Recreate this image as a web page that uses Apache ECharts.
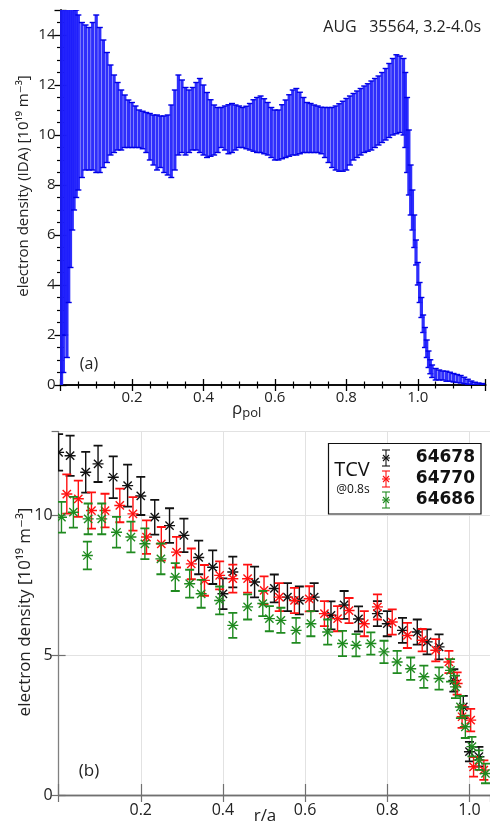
<!DOCTYPE html>
<html>
<head>
<meta charset="utf-8">
<style>
html,body{margin:0;padding:0;background:#fff;}
#c{width:490px;height:828px;}
</style>
<script src="https://cdn.jsdelivr.net/npm/echarts@6/dist/echarts.min.js"></script>
</head>
<body>
<div id="c"></div>
<script>
// ---------- Panel (a): AUG 35564 IDA profile ----------
const rhoAUG = [0.003,0.008,0.013,0.018,0.023,0.028,0.033,0.038,0.044,0.05,0.06,0.07,0.08,0.09,0.10,0.11,0.12,0.13,0.14,0.15,0.16,0.17,0.18,0.19,0.20,0.21,0.22,0.23,0.24,0.25,0.26,0.27,0.28,0.29,0.30,0.31,0.32,0.33,0.34,0.35,0.36,0.37,0.38,0.39,0.40,0.41,0.42,0.43,0.44,0.45,0.46,0.47,0.48,0.49,0.50,0.51,0.52,0.53,0.54,0.55,0.56,0.57,0.58,0.59,0.60,0.61,0.62,0.63,0.64,0.65,0.66,0.67,0.68,0.69,0.70,0.71,0.72,0.73,0.74,0.75,0.76,0.77,0.78,0.79,0.80,0.81,0.82,0.83,0.84,0.85,0.86,0.87,0.88,0.89,0.90,0.91,0.92,0.93,0.94,0.95,0.96,0.965,0.97,0.975,0.98,0.985,0.99,0.995,1.00,1.005,1.01,1.015,1.02,1.025,1.03,1.035,1.04,1.05,1.06,1.07,1.08,1.09,1.10,1.11,1.12,1.13,1.14,1.15,1.16,1.17,1.18];
const neAUG = [12,11.25,10.5,9.55,10.15,10.35,10.85,11.1,11.25,11.3,11.4,11.5,11.45,11.55,11.65,11.4,11.25,11.1,11.0,10.85,10.75,10.6,10.55,10.45,10.4,10.33,10.25,10.2,10.1,9.93,9.8,9.7,9.73,9.63,9.6,9.75,10.2,10.8,10.75,10.55,10.55,10.65,10.75,10.78,10.6,10.4,10.28,10.2,10.2,10.3,10.28,10.23,10.28,10.3,10.33,10.3,10.3,10.33,10.38,10.4,10.43,10.35,10.25,10.1,10.0,10.0,10.13,10.25,10.38,10.5,10.53,10.48,10.4,10.3,10.28,10.25,10.23,10.18,10.1,10.0,9.9,9.88,9.9,9.95,10.03,10.18,10.33,10.43,10.53,10.63,10.7,10.78,10.88,10.98,11.1,11.23,11.38,11.53,11.63,11.63,11.53,11.0,10.0,8.9,7.8,7.0,6.15,5.3,4.45,3.7,3.1,2.45,1.9,1.45,1.03,0.73,0.55,0.43,0.4,0.38,0.35,0.33,0.29,0.26,0.23,0.18,0.13,0.09,0.06,0.04,0.03];
const errAUG = [13,10.75,8.5,8.45,6.85,5.65,4.65,4.1,3.75,3.5,3.1,2.9,2.85,2.95,3.15,2.9,2.55,2.2,1.8,1.55,1.35,1.2,1.05,0.95,0.9,0.83,0.75,0.75,0.8,0.93,1.0,1.1,1.03,1.13,1.2,1.45,1.6,1.6,1.45,1.35,1.25,1.25,1.35,1.48,1.4,1.3,1.13,1.0,0.9,0.8,0.88,0.98,0.98,0.9,0.83,0.8,0.85,0.93,1.03,1.1,1.13,1.1,1.05,1.0,1.0,1.0,1.08,1.15,1.23,1.3,1.33,1.23,1.1,1.0,0.98,0.95,0.93,0.93,1.0,1.1,1.2,1.28,1.35,1.4,1.43,1.38,1.33,1.33,1.33,1.33,1.35,1.38,1.38,1.38,1.4,1.43,1.48,1.53,1.58,1.53,1.53,1.5,1.5,1.3,1.0,0.8,0.65,0.5,0.45,0.4,0.4,0.35,0.4,0.35,0.33,0.28,0.25,0.23,0.2,0.18,0.2,0.18,0.17,0.16,0.15,0.13,0.1,0.07,0.05,0.04,0.03];

// ---------- Panel (b): TCV @0.8s ----------
const ra64678 = [0.000,0.028,0.066,0.096,0.133,0.168,0.200,0.234,0.270,0.305,0.341,0.375,0.400,0.424,0.477,0.525,0.557,0.586,0.622,0.663,0.695,0.730,0.776,0.800,0.837,0.873,0.897,0.926,0.962,0.985,1.000,1.023];
const ne64678 = [12.26,12.14,11.55,11.85,11.37,11.07,10.70,9.94,9.64,9.29,8.50,8.15,7.20,7.98,7.62,7.39,7.08,6.96,7.08,6.43,6.80,6.30,6.49,6.13,5.89,5.83,5.48,5.30,4.10,3.15,1.55,1.37];
const er64678 = [0.65,0.72,0.73,0.65,0.75,0.75,0.68,0.62,0.62,0.6,0.6,0.6,0.55,0.55,0.55,0.5,0.5,0.5,0.5,0.5,0.5,0.45,0.45,0.45,0.45,0.45,0.45,0.45,0.4,0.4,0.35,0.35];

const ra64770 = [0.020,0.048,0.080,0.113,0.149,0.181,0.214,0.250,0.287,0.323,0.355,0.392,0.424,0.460,0.500,0.537,0.574,0.610,0.647,0.679,0.707,0.744,0.776,0.812,0.849,0.885,0.918,0.950,0.970,0.982,1.003,1.010,1.035];
const ne64770 = [10.77,10.60,10.18,10.18,10.36,10.06,9.23,8.99,8.69,8.27,7.68,7.86,7.74,7.74,7.32,7.08,6.96,7.02,6.49,6.31,6.60,6.13,6.73,6.19,5.71,5.54,5.18,4.76,3.99,2.80,2.68,1.01,0.89];
const er64770 = [0.7,0.65,0.65,0.6,0.6,0.6,0.6,0.6,0.55,0.55,0.55,0.5,0.5,0.5,0.5,0.5,0.45,0.45,0.45,0.45,0.45,0.45,0.45,0.45,0.45,0.4,0.4,0.4,0.4,0.4,0.4,0.35,0.35];

const ra64686 = [0.007,0.036,0.070,0.072,0.105,0.141,0.176,0.210,0.249,0.284,0.319,0.347,0.392,0.424,0.460,0.497,0.513,0.541,0.578,0.614,0.655,0.691,0.724,0.760,0.792,0.824,0.857,0.889,0.926,0.954,0.966,0.978,0.990,1.006,1.023,1.039];
const ne64686 = [9.94,10.12,8.57,9.88,9.88,9.40,9.23,8.99,8.45,7.80,7.56,7.20,6.96,6.07,6.73,6.85,6.31,6.25,5.89,6.13,5.83,5.42,5.36,5.42,5.12,4.76,4.52,4.23,4.17,4.46,3.87,3.15,2.44,1.73,1.25,0.77];
const er64686 = [0.55,0.55,0.5,0.55,0.55,0.55,0.55,0.55,0.55,0.5,0.5,0.5,0.5,0.45,0.45,0.45,0.45,0.45,0.45,0.45,0.45,0.45,0.4,0.4,0.4,0.4,0.4,0.4,0.4,0.4,0.4,0.4,0.4,0.35,0.35,0.35];

const shotNames = ['64678','64770','64686'];
const shotColors = ['#111111','#ff1010','#1f8a1f'];

const FONT = '"Open Sans", "DejaVu Sans", sans-serif';

const zip3 = (a,b,c) => a.map((v,i)=>[v,b[i],c[i]]);

function augItem(params, api){
  const x = api.value(0), y = api.value(1), e = api.value(2);
  const yMin = 0, yMax = 15;
  const lo = Math.max(y - e, yMin), hi = Math.min(y + e, yMax);
  const pLo = api.coord([x, lo]), pHi = api.coord([x, hi]);
  const ch = [{
    type:'line', shape:{x1:pLo[0], y1:pLo[1], x2:pHi[0], y2:pHi[1]},
    style:{stroke:'rgba(28,28,252,0.92)', lineWidth:3.2}
  }];
  const cw = 3;
  if (y - e >= yMin) ch.push({type:'line', shape:{x1:pLo[0]-cw,y1:pLo[1],x2:pLo[0]+cw,y2:pLo[1]}, style:{stroke:'#0000e6', lineWidth:1.4}});
  if (y + e <= yMax) ch.push({type:'line', shape:{x1:pHi[0]-cw,y1:pHi[1],x2:pHi[0]+cw,y2:pHi[1]}, style:{stroke:'#0000e6', lineWidth:1.4}});
  return {type:'group', children:ch};
}

function tcvItemFactory(color){
  return function(params, api){
    const x = api.value(0), y = api.value(1), e = api.value(2);
    const p = api.coord([x, y]);
    const pLo = api.coord([x, Math.max(y - e, 0)]);
    const pHi = api.coord([x, y + e]);
    const cw = 4.5, r = 5.5;
    const st = {stroke:color, lineWidth:1.4};
    const ch = [
      {type:'line', shape:{x1:p[0],y1:pLo[1],x2:p[0],y2:pHi[1]}, style:st},
      {type:'line', shape:{x1:p[0]-cw,y1:pLo[1],x2:p[0]+cw,y2:pLo[1]}, style:{stroke:color,lineWidth:1.8}},
      {type:'line', shape:{x1:p[0]-cw,y1:pHi[1],x2:p[0]+cw,y2:pHi[1]}, style:{stroke:color,lineWidth:1.8}},
      {type:'line', shape:{x1:p[0]-r,y1:p[1],x2:p[0]+r,y2:p[1]}, style:st},
      {type:'line', shape:{x1:p[0]-r*0.75,y1:p[1]-r*0.75,x2:p[0]+r*0.75,y2:p[1]+r*0.75}, style:st},
      {type:'line', shape:{x1:p[0]-r*0.75,y1:p[1]+r*0.75,x2:p[0]+r*0.75,y2:p[1]-r*0.75}, style:st}
    ];
    return {type:'group', children:ch};
  };
}

const chart = echarts.init(document.getElementById('c'), null, {renderer:'canvas'});

const blackAxis = {lineStyle:{color:'#000', width:1.5}};
const grayAxis = {lineStyle:{color:'#808080', width:1.3}};

const option = {
  animation:false,
  backgroundColor:'#fff',
  grid:[
    {left:60.5, top:10, width:425.2, height:375},
    {left:58.6, top:431.7, width:431.4, height:363.3}
  ],
  xAxis:[
    {type:'value', gridIndex:0, min:0, max:1.19, interval:0.2, position:'bottom',
     axisLine:blackAxis,
     axisTick:{inside:true, length:6, lineStyle:{color:'#000', width:1.3}},
     minorTick:{show:true, splitNumber:4, length:3.5, lineStyle:{color:'#000', width:1.2}},
     splitLine:{show:false},
     axisLabel:{showMaxLabel:false, margin:5, fontSize:15, color:'#222', fontFamily:FONT,
       formatter:v => (Math.abs(v) < 1e-9 ? '' : v.toFixed(1))}},
    {type:'value', gridIndex:0, min:0, max:1.19, interval:0.2, position:'top',
     axisLine:blackAxis,
     axisTick:{inside:true, length:6, lineStyle:{color:'#000', width:1.3}},
     minorTick:{show:true, splitNumber:4, length:3.5, lineStyle:{color:'#000', width:1.2}},
     splitLine:{show:false}, axisLabel:{show:false}},
    {type:'value', gridIndex:1, min:0, max:1.05, interval:0.2, position:'bottom',
     axisLine:grayAxis,
     axisTick:{inside:true, length:11, lineStyle:{color:'#707070', width:1.2}},
     splitLine:{show:true, lineStyle:{color:'#e2e2e2', width:1}},
     axisLabel:{showMaxLabel:false, margin:7, fontSize:16, color:'#222', fontFamily:FONT,
       formatter:v => (Math.abs(v) < 1e-9 ? '' : v.toFixed(1))}},
    {type:'value', gridIndex:1, min:0, max:1.05, interval:0.2, position:'top',
     axisLine:{lineStyle:{color:'#707070', width:1.3}},
     axisTick:{inside:true, length:7, lineStyle:{color:'#707070', width:1.2}},
     splitLine:{show:false}, axisLabel:{show:false}}
  ],
  yAxis:[
    {type:'value', gridIndex:0, min:0, max:15, interval:2, position:'left',
     axisLine:blackAxis,
     axisTick:{inside:true, length:6, lineStyle:{color:'#000', width:1.3}},
     minorTick:{show:true, splitNumber:4, length:3.5, lineStyle:{color:'#000', width:1.2}},
     splitLine:{show:false},
     axisLabel:{showMaxLabel:false, margin:5, fontSize:15, color:'#222', fontFamily:FONT}},
    {type:'value', gridIndex:0, min:0, max:15, interval:2, position:'right',
     axisLine:blackAxis,
     axisTick:{inside:true, length:6, lineStyle:{color:'#000', width:1.3}},
     minorTick:{show:true, splitNumber:4, length:3.5, lineStyle:{color:'#000', width:1.2}},
     splitLine:{show:false}, axisLabel:{show:false}},
    {type:'value', gridIndex:1, min:0, max:13, interval:5, position:'left',
     axisLine:grayAxis,
     axisTick:{inside:true, length:7, lineStyle:{color:'#707070', width:1.2}},
     splitLine:{show:true, lineStyle:{color:'#e2e2e2', width:1}},
     axisLabel:{showMaxLabel:false, margin:6, fontSize:16, color:'#222', fontFamily:FONT}},
    {type:'value', gridIndex:1, min:0, max:13, interval:5, position:'right',
     axisLine:{show:false},
     axisTick:{inside:true, length:7, lineStyle:{color:'#707070', width:1.2}},
     splitLine:{show:false}, axisLabel:{show:false}}
  ],
  series:[
    {type:'custom', name:'AUG 35564', xAxisIndex:0, yAxisIndex:0, clip:true,
     data:zip3(rhoAUG, neAUG, errAUG), renderItem:augItem, z:3},
    {type:'custom', name:shotNames[0], xAxisIndex:2, yAxisIndex:2, clip:true,
     data:zip3(ra64678, ne64678, er64678), renderItem:tcvItemFactory(shotColors[0]), z:3},
    {type:'custom', name:shotNames[1], xAxisIndex:2, yAxisIndex:2, clip:true,
     data:zip3(ra64770, ne64770, er64770), renderItem:tcvItemFactory(shotColors[1]), z:4},
    {type:'custom', name:shotNames[2], xAxisIndex:2, yAxisIndex:2, clip:true,
     data:zip3(ra64686, ne64686, er64686), renderItem:tcvItemFactory(shotColors[2]), z:5}
  ],
  graphic:[]
};

const g = [];
// axis titles
g.push({type:'text', x:24, y:186, rotation:Math.PI/2,
  style:{text:'electron density (IDA) [10¹⁹ m⁻³]', font:'15px '+FONT, fill:'#222', align:'center', verticalAlign:'middle'}});
g.push({type:'text', x:25, y:612, rotation:Math.PI/2,
  style:{text:'electron density [10¹⁹ m⁻³]', font:'17px '+FONT, fill:'#222', align:'center', verticalAlign:'middle'}});
g.push({type:'text', x:232, y:398,
  style:{text:'{a|ρ}{b|pol}', rich:{a:{fontSize:17, fontFamily:FONT, fill:'#222'}, b:{fontSize:13, fontFamily:FONT, fill:'#222', padding:[9,0,0,0]}}, fill:'#222'}});
g.push({type:'text', x:265, y:816,
  style:{text:'r/a', font:'17px '+FONT, fill:'#222', align:'center', verticalAlign:'middle'}});
// panel labels
g.push({type:'text', x:89, y:364, style:{text:'(a)', font:'16px '+FONT, fill:'#222', align:'center', verticalAlign:'middle'}});
g.push({type:'text', x:89, y:771, style:{text:'(b)', font:'17px '+FONT, fill:'#222', align:'center', verticalAlign:'middle'}});
g.push({type:'text', x:481, y:27, style:{text:'AUG   35564, 3.2-4.0s', font:'16px '+FONT, fill:'#222', align:'right', verticalAlign:'middle'}});
// legend box
g.push({type:'rect', shape:{x:328.5, y:443.5, width:152.5, height:70.5}, style:{fill:'#fff', stroke:'#111', lineWidth:1.2}, z:10});
g.push({type:'text', x:352, y:470, z:11, style:{text:'TCV', font:'20px '+FONT, fill:'#111', align:'center', verticalAlign:'middle'}});
g.push({type:'text', x:353, y:490, z:11, style:{text:'@0.8s', font:'12px '+FONT, fill:'#111', align:'center', verticalAlign:'middle'}});
const rowsY = [458, 479, 500];
shotNames.forEach((nm, i) => {
  const cx = 386, cy = rowsY[i], col = shotColors[i];
  const st = {stroke:col, lineWidth:1.1};
  g.push({type:'line', z:11, shape:{x1:cx, y1:cy-8, x2:cx, y2:cy+8}, style:st});
  g.push({type:'line', z:11, shape:{x1:cx-4, y1:cy-8, x2:cx+4, y2:cy-8}, style:st});
  g.push({type:'line', z:11, shape:{x1:cx-4, y1:cy+8, x2:cx+4, y2:cy+8}, style:st});
  g.push({type:'line', z:11, shape:{x1:cx-4, y1:cy, x2:cx+4, y2:cy}, style:st});
  g.push({type:'line', z:11, shape:{x1:cx-3, y1:cy-3, x2:cx+3, y2:cy+3}, style:st});
  g.push({type:'line', z:11, shape:{x1:cx-3, y1:cy+3, x2:cx+3, y2:cy-3}, style:st});
  g.push({type:'text', x:475, y:cy, z:11, style:{text:nm, font:'bold 17px "DejaVu Sans", sans-serif', fill:'#111', align:'right', verticalAlign:'middle'}});
});
option.graphic = g;

chart.setOption(option);
</script>
</body>
</html>
